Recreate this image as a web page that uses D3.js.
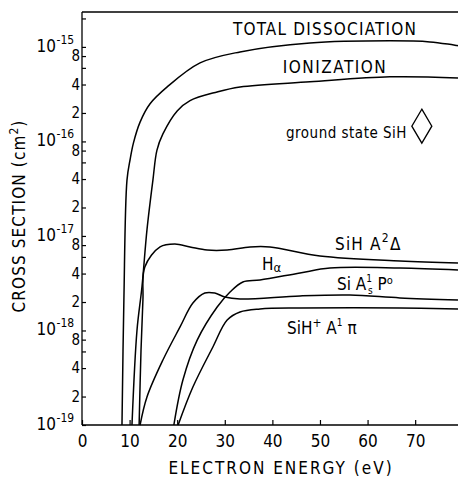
<!DOCTYPE html>
<html>
<head>
<meta charset="utf-8">
<script src="https://cdn.jsdelivr.net/npm/d3@7"></script>
<style>
  html, body { margin: 0; padding: 0; background: #fff; }
  svg { display: block; }
  text { font-family: "Liberation Sans Narrow", "DejaVu Sans Condensed", "Liberation Sans", sans-serif; fill: #000; }
</style>
</head>
<body>
<svg id="chart" width="458" height="477"></svg>
<script>
// ---------------- DATA ----------------
const xTickValues = [0, 10, 20, 30, 40, 50, 60, 70];
const yDecadeExponents = [-19, -18, -17, -16, -15];
const yTickMantissas = [1, 2, 4, 6, 8];
const yLabelMantissas = [2, 4, 8];

// TOTAL DISSOCIATION
const totalEnergy = [8.4, 8.8, 9.45, 10.1, 10.8, 12.2, 14.3, 17.9, 24.8, 33.2, 47.9, 64.7, 73.1, 79];
const totalSigma  = [1e-19, 2.1e-18, 3.9e-17, 6.4e-17, 9.6e-17, 1.6e-16, 2.5e-16, 3.77e-16, 6.77e-16, 8.85e-16, 1.10e-15, 1.16e-15, 1.13e-15, 1.03e-15];

// IONIZATION
const ionEnergy = [10.5, 11.55, 12.6, 13.65, 14.9, 15.75, 17.0, 20.0, 22.7, 28.4, 33.2, 47.9, 64.7, 79];
const ionSigma  = [1e-19, 1.0e-18, 2.9e-18, 1.16e-17, 3.9e-17, 8.1e-17, 1.2e-16, 2.1e-16, 2.7e-16, 3.34e-16, 3.77e-16, 4.27e-16, 4.82e-16, 4.70e-16];

// SiH A2Delta
const a2dEnergy = [12.0, 12.4, 12.8, 13.2, 16.4, 19.5, 22.7, 26.3, 30.5, 35.3, 39.5, 50.0, 66.8, 79];
const a2dSigma  = [1e-19, 6.2e-19, 2.1e-18, 4.7e-18, 7.65e-18, 8.2e-18, 7.65e-18, 7.1e-18, 7.1e-18, 7.65e-18, 7.65e-18, 6.14e-18, 5.44e-18, 5.18e-18];

// H alpha
const haEnergy = [12.2, 13.65, 17.0, 20.6, 23.3, 25.8, 27.9, 30.0, 33.2, 45.8, 56.3, 66.8, 79];
const haSigma  = [1e-19, 1.98e-19, 4.87e-19, 1.09e-18, 1.95e-18, 2.49e-18, 2.49e-18, 2.26e-18, 2.15e-18, 2.32e-18, 2.37e-18, 2.21e-18, 2.10e-18];

// Si A1 P0
const siEnergy = [19.3, 21.2, 24.2, 28.4, 31.1, 33.8, 37.4, 45.8, 52.1, 66.8, 79];
const siSigma  = [1e-19, 2.99e-19, 7.9e-19, 1.77e-18, 2.55e-18, 3.26e-18, 3.42e-18, 4.06e-18, 4.58e-18, 4.58e-18, 4.37e-18];

// SiH+ A1 pi
const ionAEnergy = [20.2, 23.3, 27.5, 30.5, 33.2, 37.4, 45.8, 66.8, 79];
const ionASigma  = [1e-19, 2.52e-19, 6.69e-19, 1.29e-18, 1.57e-18, 1.69e-18, 1.73e-18, 1.73e-18, 1.69e-18];

// ground state SiH marker
const groundEnergy = [71.4];
const groundSigma  = [1.45e-16];

// ---------------- CHART ----------------
const svg = d3.select("#chart");
const xDomain = [0, 79];
const yDomain = [1e-19, 2.34e-15];
const x = d3.scaleLinear().domain(xDomain).range([82, 458]);
const y = d3.scaleLog().domain(yDomain).range([425, 12]);

const frame = svg.append("g").attr("stroke", "#000").attr("stroke-width", 1.3).attr("fill", "none");
frame.append("line").attr("x1", x(0)).attr("x2", x(0)).attr("y1", y.range()[0]).attr("y2", y.range()[1]);
frame.append("line").attr("x1", x(0)).attr("x2", 458).attr("y1", y.range()[0]).attr("y2", y.range()[0]);
frame.append("line").attr("x1", x(0)).attr("x2", 458).attr("y1", y.range()[1]).attr("y2", y.range()[1]);

// X axis
const xAxis = d3.axisBottom(x).tickValues(xTickValues).tickSize(-5).tickPadding(10).tickFormat(d3.format("d"));
const gx = svg.append("g").attr("transform", `translate(0,${y.range()[0]})`).call(xAxis);
gx.select(".domain").remove();
gx.selectAll(".tick line").attr("stroke", "#000").attr("stroke-width", 1.2);
gx.selectAll(".tick text").attr("font-size", 17).attr("dy", "0.71em");

// Y ticks
const yTicks = [];
yDecadeExponents.forEach(e => yTickMantissas.forEach(m => {
  const v = m * Math.pow(10, e);
  if (v >= yDomain[0] && v <= yDomain[1]) yTicks.push(v);
}));
const yAxis = d3.axisLeft(y).tickValues(yTicks).tickSize(-4).tickFormat("");
const gy = svg.append("g").attr("transform", `translate(${x(0)},0)`).call(yAxis);
gy.select(".domain").remove();
gy.selectAll(".tick line").attr("stroke", "#000").attr("stroke-width", 1.2);

// Y labels
const ylab = svg.append("g");
const topDecade = d3.max(yDecadeExponents);
yDecadeExponents.forEach(e => {
  const v = Math.pow(10, e);
  ylab.append("text").attr("x", 56).attr("y", y(v) + 5).attr("font-size", 17).attr("text-anchor", "end").text("10");
  ylab.append("text").attr("x", 56.5).attr("y", y(v) - 3).attr("font-size", 12).text("-" + (-e));
  if (e === topDecade) return;
  yLabelMantissas.forEach(m => {
    const mv = m * v;
    ylab.append("text").attr("x", 80).attr("y", y(mv) + 5).attr("font-size", 15).attr("text-anchor", "end").text(m);
  });
});

// Axis titles
svg.append("text").attr("x", 281).attr("y", 474).attr("font-size", 17)
  .attr("text-anchor", "middle").attr("letter-spacing", 2).text("ELECTRON ENERGY (eV)");
const yt = svg.append("text").attr("transform", "translate(25,216) rotate(-90)")
  .attr("font-size", 17).attr("text-anchor", "middle").attr("letter-spacing", 1.1);
yt.append("tspan").text("CROSS SECTION (cm");
yt.append("tspan").attr("font-size", 12).attr("dy", -7).text("2");
yt.append("tspan").attr("dy", 7).text(")");

// Curves
const line = d3.line().x(d => x(d[0])).y(d => y(d[1])).curve(d3.curveCatmullRom.alpha(0.5));
const series = [
  [totalEnergy, totalSigma],
  [ionEnergy, ionSigma],
  [a2dEnergy, a2dSigma],
  [haEnergy, haSigma],
  [siEnergy, siSigma],
  [ionAEnergy, ionASigma]
];
svg.append("g").selectAll("path").data(series).join("path")
  .attr("d", s => line(s[0].map((e, i) => [e, s[1][i]])))
  .attr("fill", "none").attr("stroke", "#000").attr("stroke-width", 1.5);

// Diamond marker
groundEnergy.forEach((e, i) => {
  const cx = x(e), cy = y(groundSigma[i]);
  svg.append("path")
    .attr("d", `M${cx},${cy - 17}L${cx + 10},${cy}L${cx},${cy + 17}L${cx - 10},${cy}Z`)
    .attr("fill", "none").attr("stroke", "#000").attr("stroke-width", 1.3);
});

// Curve labels
const lab = svg.append("g").attr("font-size", 17);
lab.append("text").attr("x", 325).attr("y", 35).attr("text-anchor", "middle").attr("letter-spacing", 1.2).text("TOTAL DISSOCIATION");
lab.append("text").attr("x", 335).attr("y", 73).attr("text-anchor", "middle").attr("letter-spacing", 1.5).text("IONIZATION");
lab.append("text").attr("x", 407).attr("y", 138).attr("text-anchor", "end").attr("font-size", 15).attr("letter-spacing", 0.5).text("ground state SiH");

const t1 = lab.append("text").attr("x", 335).attr("y", 250).attr("letter-spacing", 1.2);
t1.append("tspan").text("SiH A");
t1.append("tspan").attr("font-size", 12).attr("dy", -8).text("2");
t1.append("tspan").attr("dy", 8).text("Δ");

const t2 = lab.append("text").attr("x", 262).attr("y", 270);
t2.append("tspan").text("H");
t2.append("tspan").attr("font-size", 13).attr("dy", 2).text("α");

const t3 = lab.append("text").attr("x", 337).attr("y", 290);
t3.append("tspan").text("Si A");
t3.append("tspan").attr("font-size", 10).attr("dy", -8).text("1");
t3.append("tspan").attr("font-size", 10).attr("dx", -4).attr("dy", 12).text("s");
t3.append("tspan").attr("dy", -4).text(" P");
t3.append("tspan").attr("font-size", 11).attr("dy", -6).text("o");

const t4 = lab.append("text").attr("x", 287).attr("y", 334);
t4.append("tspan").text("SiH");
t4.append("tspan").attr("font-size", 12).attr("dy", -7).text("+");
t4.append("tspan").attr("dy", 7).text(" A");
t4.append("tspan").attr("font-size", 10).attr("dy", -8).text("1");
t4.append("tspan").attr("dy", 8).text(" π");
</script>
</body>
</html>
